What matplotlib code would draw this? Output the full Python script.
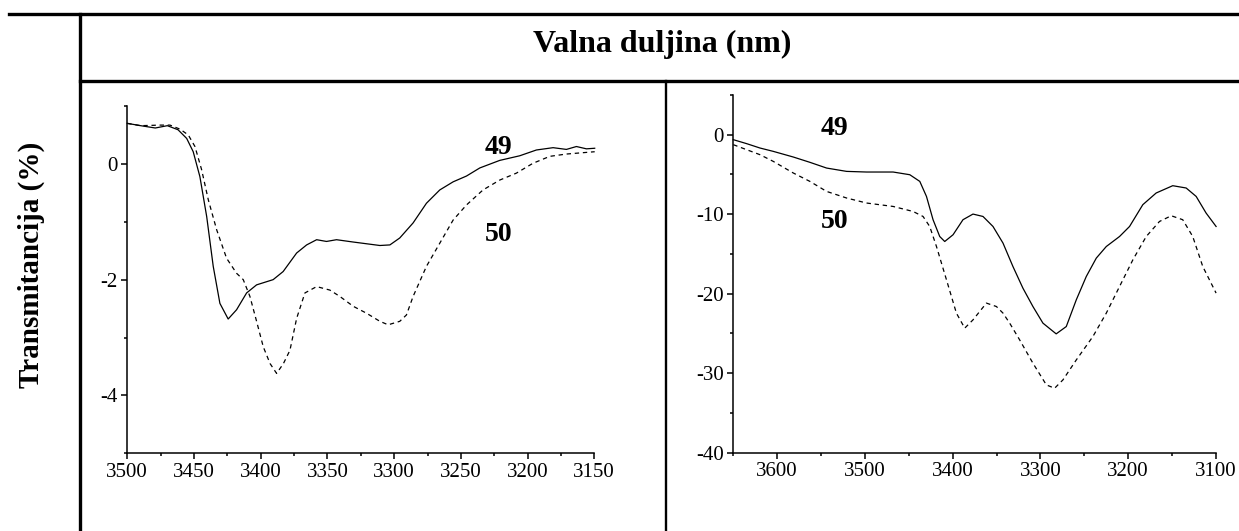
import numpy as np
import matplotlib
matplotlib.use("Agg")
import matplotlib.pyplot as plt
from matplotlib.lines import Line2D
from matplotlib.ticker import MultipleLocator

plt.rcParams['font.family'] = ['Liberation Serif', 'DejaVu Serif']
plt.rcParams['axes.unicode_minus'] = False

# lijevi graf (uzorci 49 i 50)
L_x49 = [3500, 3490, 3479, 3470, 3462, 3455.5, 3450.6, 3445.6, 3440.5, 3435.6, 3430.6, 3424.4,
         3418.1, 3410.6, 3403.1, 3390.7, 3383.2, 3373.1, 3365.6, 3358.1, 3350.7, 3343.2, 3330.7,
         3320.7, 3310.7, 3303.2, 3295.8, 3285.8, 3275.8, 3265.8, 3255.8, 3245.8, 3235.8, 3220.9,
         3205.9, 3193.4, 3180.9, 3170.9, 3163.4, 3155.9, 3149.7]
L_y49 = [0.70, 0.66, 0.62, 0.66, 0.59, 0.44, 0.21, -0.22, -0.91, -1.77, -2.41, -2.68,
         -2.52, -2.23, -2.09, -2.00, -1.86, -1.54, -1.40, -1.31, -1.34, -1.31, -1.35,
         -1.38, -1.41, -1.40, -1.28, -1.02, -0.68, -0.45, -0.31, -0.21, -0.07, 0.06,
         0.14, 0.24, 0.28, 0.25, 0.30, 0.26, 0.27]
L_x50 = [3500, 3490, 3475.5, 3468, 3460.5, 3454.3, 3449.3, 3444.3, 3439.3, 3433, 3425.6, 3418.1,
         3413.1, 3408.1, 3403.1, 3398.1, 3393, 3388.1, 3383, 3378.1, 3373.1, 3366.9, 3358.1,
         3348.2, 3340.7, 3330.7, 3320.7, 3310.7, 3304.5, 3295.8, 3290.8, 3285.8, 3275.8, 3265.8,
         3255.8, 3245.8, 3233.4, 3220.9, 3208.4, 3196, 3183.4, 3170.9, 3149.7]
L_y50 = [0.70, 0.66, 0.67, 0.67, 0.60, 0.50, 0.30, -0.10, -0.62, -1.14, -1.63, -1.89,
         -2.00, -2.29, -2.72, -3.16, -3.45, -3.62, -3.45, -3.22, -2.67, -2.23, -2.12,
         -2.18, -2.29, -2.46, -2.58, -2.72, -2.78, -2.72, -2.61, -2.29, -1.77, -1.37,
         -0.97, -0.71, -0.45, -0.28, -0.16, 0.01, 0.13, 0.17, 0.21]

# desni graf
R_x49 = [3650, 3634.8, 3619.6, 3604.5, 3581.7, 3562.7, 3543.7, 3520.9, 3498.2, 3467.9, 3448.9,
         3437.5, 3429.9, 3422.4, 3414.8, 3409.1, 3399.6, 3388.3, 3376.9, 3365.5, 3354.1, 3342.7,
         3331.4, 3320, 3308.6, 3297.2, 3282.1, 3270.6, 3259.2, 3247.8, 3236.4, 3225, 3209.9,
         3198.5, 3183.4, 3168.2, 3149.3, 3134, 3122.6, 3111.3, 3099.9]
R_y49 = [-0.62, -1.12, -1.67, -2.09, -2.80, -3.47, -4.19, -4.61, -4.69, -4.69, -5.03,
         -5.87, -7.76, -10.69, -12.80, -13.43, -12.58, -10.69, -9.98, -10.28, -11.54, -13.63,
         -16.57, -19.30, -21.61, -23.70, -25.05, -24.13, -20.77, -17.83, -15.52, -14.06, -12.80,
         -11.54, -8.80, -7.33, -6.41, -6.70, -7.76, -9.85, -11.54]
R_x50 = [3650, 3634.8, 3619.6, 3604.5, 3581.7, 3562.7, 3543.7, 3520.9, 3498.2, 3467.9, 3445.2,
         3433.8, 3426.2, 3418.5, 3407.1, 3395.8, 3386.3, 3376.9, 3361.6, 3350.2, 3342.7, 3335.1,
         3323.7, 3308.6, 3293.3, 3283.9, 3274.4, 3259.2, 3240.3, 3225, 3209.9, 3194.7, 3179.5,
         3164.4, 3151, 3137.9, 3126.5, 3115.1, 3099.9]
R_y50 = [-1.25, -1.88, -2.51, -3.35, -4.81, -5.87, -7.13, -7.96, -8.59, -9.02, -9.65,
         -10.28, -11.54, -14.06, -18.25, -22.44, -24.33, -23.29, -21.18, -21.61, -22.44, -23.70,
         -25.81, -28.74, -31.47, -31.89, -30.84, -28.33, -25.39, -22.44, -19.09, -15.73, -12.80,
         -10.91, -10.19, -10.69, -12.80, -16.57, -19.92]

W, H = 1239, 531
fig = plt.figure(figsize=(W / 100, H / 100), dpi=100)

def fx(px):
    return px / W

def fy(py):
    return 1 - py / H

# okvir tablice
fig.add_artist(Line2D([fx(9), 1], [fy(13.8), fy(13.8)], color='black', lw=2.4))
fig.add_artist(Line2D([fx(80), 1], [fy(80.7), fy(80.7)], color='black', lw=2.4))
fig.add_artist(Line2D([fx(80), fx(80)], [0, fy(13.8)], color='black', lw=2.4))
fig.add_artist(Line2D([fx(665.8), fx(665.8)], [0, fy(80.7)], color='black', lw=1.7))

fig.text(fx(662.5), fy(51.7), 'Valna duljina (nm)', ha='center', va='baseline',
         fontsize=23, fontweight='bold')
fig.text(fx(31), fy(265), 'Transmitancija (%)', ha='center', va='center',
         rotation=90, fontsize=21, fontweight='bold')

ax1 = fig.add_axes([fx(127.3), fy(453.3), fx(594.3) - fx(127.3), fy(106) - fy(453.3)])
ax2 = fig.add_axes([fx(733.3), fy(452.7), fx(1216) - fx(733.3), fy(95) - fy(452.7)])

ax1.plot(L_x49, L_y49, color='black', lw=0.9, clip_on=False)
ax1.plot(L_x50, L_y50, color='black', lw=0.9, ls=(0, (3.5, 3)), clip_on=False)
ax1.set_xlim(3500, 3150)
ax1.set_ylim(-5, 1)
ax1.xaxis.set_major_locator(MultipleLocator(50))
ax1.xaxis.set_minor_locator(MultipleLocator(25))
ax1.yaxis.set_major_locator(MultipleLocator(2))
ax1.yaxis.set_minor_locator(MultipleLocator(1))
ax1.text(3222, 0.285, '49', ha='center', va='center', fontsize=20, fontweight='bold')
ax1.text(3222, -1.226, '50', ha='center', va='center', fontsize=20, fontweight='bold')

ax2.plot(R_x49, R_y49, color='black', lw=0.9, clip_on=False)
ax2.plot(R_x50, R_y50, color='black', lw=0.9, ls=(0, (3.5, 3)), clip_on=False)
ax2.set_xlim(3650, 3100)
ax2.set_ylim(-40, 5)
ax2.xaxis.set_major_locator(MultipleLocator(100))
ax2.xaxis.set_minor_locator(MultipleLocator(50))
ax2.yaxis.set_major_locator(MultipleLocator(10))
ax2.yaxis.set_minor_locator(MultipleLocator(5))
ax2.text(3535, 0.79, '49', ha='center', va='center', fontsize=20, fontweight='bold')
ax2.text(3535, -10.9, '50', ha='center', va='center', fontsize=20, fontweight='bold')

for ax in (ax1, ax2):
    ax.set_facecolor('none')
    ax.spines['top'].set_visible(False)
    ax.spines['right'].set_visible(False)
    ax.spines['left'].set_linewidth(1.1)
    ax.spines['bottom'].set_linewidth(1.1)
    ax.tick_params(which='major', direction='out', length=4, width=1.1, labelsize=15, pad=3)
    ax.tick_params(which='minor', direction='out', length=2.5, width=1.1)

fig.savefig('out.png', dpi=100)
